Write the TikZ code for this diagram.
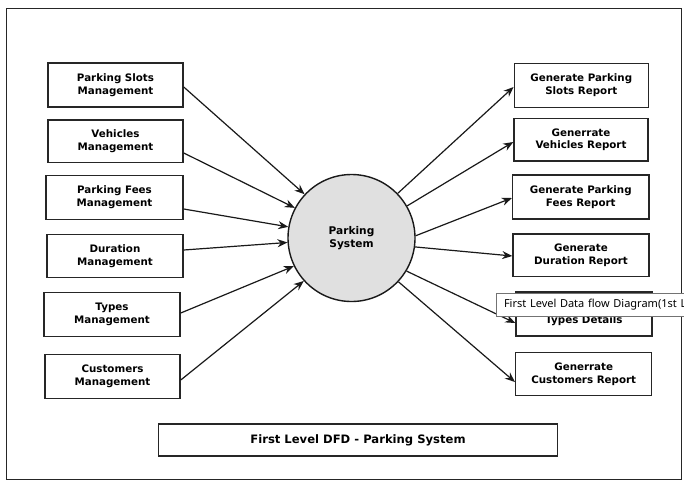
\documentclass[tikz,border=0pt]{standalone}
\usepackage{fontspec}
\setmainfont{DejaVu Sans}
\newfontfamily\tipfont{Noto Sans}
\usetikzlibrary{arrows.meta,calc}
\begin{document}
\begin{tikzpicture}[x=1pt,y=-1pt,
  ent/.style={draw=black!85,line width=1.5pt,fill=white,inner sep=0pt,align=center,
    font=\bfseries\fontsize{10.3}{12.8}\selectfont},
  flow/.style={draw=black!90,line width=1.2pt,-{Stealth[length=10pt,width=8pt]}},
  proc/.style={circle,draw=black!90,line width=1.4pt,fill=black!12,minimum size=127pt,inner sep=0pt,
    align=center,font=\bfseries\fontsize{10.6}{13.4}\selectfont}]
\clip (0,0) rectangle (684,485);
\useasboundingbox (0,0) rectangle (684,485);
\fill[white] (0,0) rectangle (684,485);
\draw[line width=1.2pt,black!85] (6.7,8.3) rectangle (681.7,479.3);

\node[proc] (C) at (351.5,238) {Parking\\System};

\node[ent,minimum width=135pt,minimum height=44pt] (L1) at (115.5,85) {Parking Slots\\Management};
\node[ent,minimum width=135pt,minimum height=42.7pt] (L2) at (115.5,141.3) {Vehicles\\Management};
\node[ent,minimum width=137pt,minimum height=43.6pt] (L3) at (114.5,197.5) {Parking Fees\\Management};
\node[ent,minimum width=136pt,minimum height=43.4pt] (L4) at (115,256) {Duration\\Management};
\node[ent,minimum width=136pt,minimum height=44.4pt] (L5) at (112,314.5) {Types\\Management};
\node[ent,minimum width=135pt,minimum height=44pt] (L6) at (112.5,376.3) {Customers\\Management};

\node[ent,minimum width=134pt,minimum height=44pt] (R1) at (581.3,85.3) {Generate Parking\\Slots Report};
\node[ent,minimum width=134pt,minimum height=42.7pt] (R2) at (581,139.7) {Generrate\\Vehicles Report};
\node[ent,minimum width=136.3pt,minimum height=44pt] (R3) at (580.8,197) {Generate Parking\\Fees Report};
\node[ent,minimum width=136pt,minimum height=42.7pt] (R4) at (581,255.3) {Generate\\Duration Report};
\node[ent,minimum width=136pt,minimum height=44pt] (R5) at (584,314) {Generate\\Types Details};
\node[ent,minimum width=136pt,minimum height=43pt] (R6) at (583.7,374.2) {Generrate\\Customers Report};

\node[ent,minimum width=399.4pt,minimum height=32pt,font=\bfseries\fontsize{11.6}{14}\selectfont] (T) at (358,440) {First Level DFD - Parking System};

\draw[flow] ($(L1.east)+(0,2)$) -- (C.137.5);
\draw[flow] ($(L2.east)+(0,11.7)$) -- (C.152);
\draw[flow] ($(L3.east)+(0,11.5)$) -- (C.170);
\draw[flow] ($(L4.east)+(0,-6)$) -- (C.184.5);
\draw[flow] ($(L5.east)+(0,-1.5)$) -- (C.206);
\draw[flow] ($(L6.east)+(0,3.7)$) -- (C.222.6);

\draw[flow] (C.44.7) -- ($(R1.west)+(0,1.7)$);
\draw[flow] (C.30.7) -- ($(R2.west)+(0,2.3)$);
\draw[flow] (C.2.7) -- ($(R3.west)+(0,1)$);
\draw[flow] (C.-8) -- ($(R4.west)+(0,0.7)$);
\draw[flow] (C.-31) -- ($(R5.west)+(0,9)$);
\draw[flow] (C.-43) -- ($(R6.west)+(0,7.8)$);

\node[draw=black!55,line width=0.6pt,fill=white,anchor=north west,minimum height=23.3pt,
  text width=230pt,inner xsep=8pt,inner ysep=0pt,align=left,font=\tipfont\fontsize{11}{13}\selectfont]
  (tip) at (495.7,292.7) {First Level Data flow Diagram(1st Level)};
\end{tikzpicture}
\end{document}
